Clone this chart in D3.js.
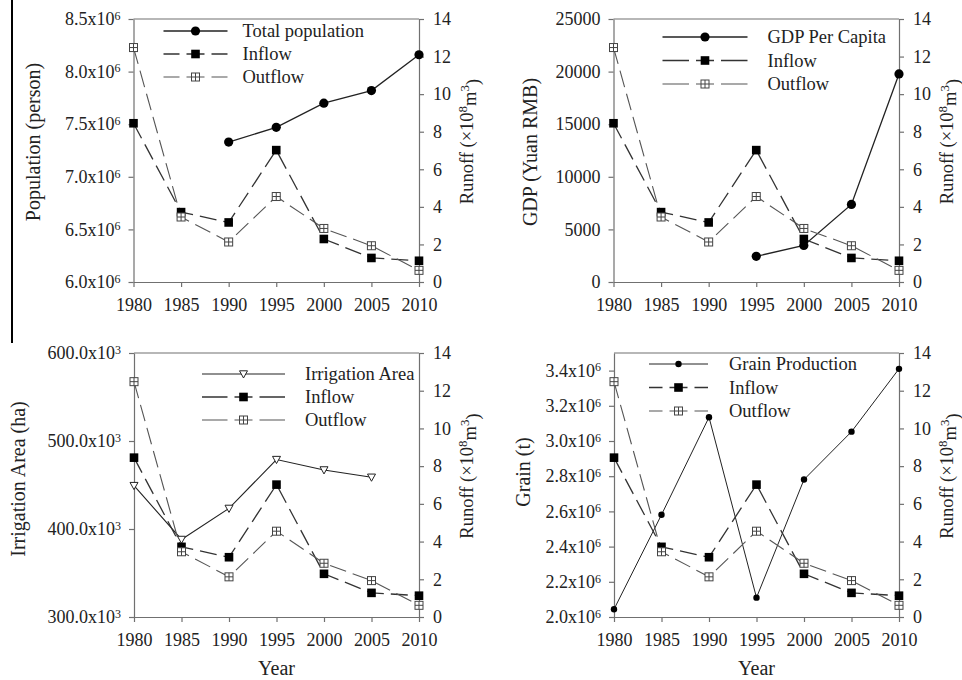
<!DOCTYPE html>
<html>
<head>
<meta charset="utf-8">
<script src="https://cdn.jsdelivr.net/npm/d3@7"></script>
<style>
  body { margin: 0; background: #fff; }
  svg { display: block; font-family: "Liberation Serif", "DejaVu Serif", serif; }
  .axis path, .axis line { stroke: #707070; stroke-width: 1.2; }
  .axis text { font-size: 18px; fill: #222; font-family: "Liberation Serif", serif; }
  .legend text { font-size: 18.5px; fill: #222; }
  .title { font-size: 20px; fill: #222; }
</style>
</head>
<body>
<svg id="chart" width="962" height="680"></svg>
<script>
// data
var years = [1980, 1985, 1990, 1995, 2000, 2005, 2010];
var inflow = [8.45, 3.72, 3.17, 7.02, 2.29, 1.28, 1.13];
var outflow = [12.48, 3.46, 2.13, 4.55, 2.85, 1.93, 0.62];
var population = [null, null, 7.33e6, 7.47e6, 7.70e6, 7.82e6, 8.16e6];
var gdpPerCapita = [null, null, null, 2440, 3480, 7370, 19780];
var irrigation = [449.3, 388.1, 423.4, 478.9, 467.1, 458.8, null];   // x10^3 ha
var grain = [2.044, 2.581, 3.135, 2.110, 2.781, 3.053, 3.410];      // x10^6 t

// tick labels
var runoffTicks = [0, 2, 4, 6, 8, 10, 12, 14];
var popTicks = [6.0e6, 6.5e6, 7.0e6, 7.5e6, 8.0e6, 8.5e6];
var gdpTicks = [0, 5000, 10000, 15000, 20000, 25000];
var irrTicks = [300, 400, 500, 600];
var grainTicks = [2.0, 2.2, 2.4, 2.6, 2.8, 3.0, 3.2, 3.4];

var svg = d3.select("#chart");

// vertical line at the left edge of the picture
svg.append("line")
  .attr("x1", 12).attr("x2", 12).attr("y1", 0).attr("y2", 343)
  .attr("stroke", "#000").attr("stroke-width", 2);

var panels = [
  { left: 133.5, top: 19, right: 419, bottom: 282,
    values: population, domain: [6.0e6, 8.5e6], ticks: popTicks,
    fmt: function(d){ return [(d / 1e6).toFixed(1) + "x10", "6"]; },
    title: "Population (person)", titleX: 33, titleY: 142,
    label: "Total population", marker: "circle", r: 4.6, lineW: 1.3,
    leg: [30, 94, 109, 12, 23], xTitle: false },
  { left: 613.5, top: 19, right: 899, bottom: 282,
    values: gdpPerCapita, domain: [0, 25000], ticks: gdpTicks,
    fmt: function(d){ return [String(d), ""]; },
    title: "GDP (Yuan RMB)", titleX: 530, titleY: 152,
    label: "GDP Per Capita", marker: "circle", r: 4.6, lineW: 1.3,
    leg: [49, 134, 154, 18, 23.5], xTitle: false },
  { left: 134, top: 353, right: 419, bottom: 617,
    values: irrigation, domain: [300, 600], ticks: irrTicks,
    fmt: function(d){ return [d.toFixed(1) + "x10", "3"]; },
    title: "Irrigation Area (ha)", titleX: 18, titleY: 479,
    label: "Irrigation Area", marker: "triangle", r: 4, lineW: 1.1,
    leg: [68, 151, 171, 21, 23], xTitle: true },
  { left: 614, top: 353, right: 899, bottom: 617,
    values: grain, domain: [2.0, 3.5], ticks: grainTicks,
    fmt: function(d){ return [d.toFixed(1) + "x10", "6"]; },
    title: "Grain (t)", titleX: 523, titleY: 472,
    label: "Grain Production", marker: "circle", r: 3.2, lineW: 1,
    leg: [35, 94, 115, 11, 23.5], xTitle: true }
];

function drawMarker(g, type, x, y, r) {
  if (type === "circle") {
    g.append("circle").attr("cx", x).attr("cy", y).attr("r", r).attr("fill", "#000");
  } else if (type === "square") {
    g.append("rect").attr("x", x - 4.3).attr("y", y - 4.3)
      .attr("width", 8.6).attr("height", 8.6).attr("fill", "#000");
  } else if (type === "squareCross") {
    g.append("rect").attr("x", x - 4).attr("y", y - 4).attr("width", 8).attr("height", 8)
      .attr("fill", "#fff").attr("stroke", "#444").attr("stroke-width", 1);
    g.append("path").attr("d", "M" + (x - 4) + "," + y + "H" + (x + 4) + "M" + x + "," + (y - 4) + "V" + (y + 4))
      .attr("stroke", "#444").attr("stroke-width", 1);
  } else if (type === "triangle") {
    g.append("path")
      .attr("d", "M" + (x - r) + "," + (y - r * 0.8) + "L" + (x + r) + "," + (y - r * 0.8) + "L" + x + "," + (y + r) + "Z")
      .attr("fill", "#fff").attr("stroke", "#222").attr("stroke-width", 1);
  }
}

panels.forEach(function(p) {
  var g = svg.append("g");

  var x = d3.scaleLinear().domain([1980, 2010]).range([p.left, p.right]);
  var yL = d3.scaleLinear().domain(p.domain).range([p.bottom, p.top]);
  var yR = d3.scaleLinear().domain([0, 14]).range([p.bottom, p.top]);

  // top frame line
  g.append("line").attr("x1", p.left).attr("x2", p.right)
    .attr("y1", p.top).attr("y2", p.top)
    .attr("stroke", "#707070").attr("stroke-width", 1.2);

  // x axis
  g.append("g").attr("class", "axis")
    .attr("transform", "translate(0," + p.bottom + ")")
    .call(d3.axisBottom(x).tickValues(years).tickFormat(d3.format("d"))
      .tickSize(5).tickSizeOuter(0).tickPadding(11))
    .attr("font-family", "Liberation Serif");

  // left axis
  var leftAxis = g.append("g").attr("class", "axis")
    .attr("transform", "translate(" + p.left + ",0)")
    .call(d3.axisLeft(yL).tickValues(p.ticks).tickSize(5).tickSizeOuter(0).tickPadding(8)
      .tickFormat(function(d){ return ""; }))
    .attr("font-family", "Liberation Serif");
  leftAxis.selectAll(".tick text").each(function(d) {
    var parts = p.fmt(d);
    var t = d3.select(this);
    t.append("tspan").text(parts[0]);
    if (parts[1]) {
      t.append("tspan").attr("dy", "-0.45em").attr("font-size", "12px").text(parts[1]);
    }
  });

  // right axis
  g.append("g").attr("class", "axis")
    .attr("transform", "translate(" + p.right + ",0)")
    .call(d3.axisRight(yR).tickValues(runoffTicks).tickSize(5).tickSizeOuter(0).tickPadding(9))
    .attr("font-family", "Liberation Serif");

  g.selectAll(".axis text").style("font-family", "'Liberation Serif', serif");

  // axis titles
  g.append("text").attr("class", "title")
    .attr("transform", "translate(" + p.titleX + "," + p.titleY + ") rotate(-90)")
    .attr("text-anchor", "middle").attr("dy", "0.35em")
    .text(p.title);

  var rt = g.append("text").attr("class", "title")
    .attr("transform", "translate(" + (p.right + 54) + "," + ((p.top + p.bottom) / 2 - 9) + ") rotate(-90)")
    .attr("text-anchor", "middle").style("font-size", "18.5px");
  rt.append("tspan").text("Runoff (\u00d710");
  rt.append("tspan").attr("dy", "-0.5em").attr("font-size", "13px").text("8");
  rt.append("tspan").attr("dy", "0.5em").text("m");
  rt.append("tspan").attr("dy", "-0.5em").attr("font-size", "13px").text("3");
  rt.append("tspan").attr("dy", "0.5em").text(")");

  if (p.xTitle) {
    g.append("text").attr("class", "title")
      .attr("x", (p.left + p.right) / 2).attr("y", 675)
      .attr("text-anchor", "middle").text("Year");
  }

  // series
  var series = [
    { vals: p.values, scale: yL, marker: p.marker, dash: null, color: "#222", w: p.lineW, label: p.label },
    { vals: inflow, scale: yR, marker: "square", dash: "17,7", color: "#333", w: 1.3, label: "Inflow" },
    { vals: outflow, scale: yR, marker: "squareCross", dash: "17,7", color: "#555", w: 1.1, label: "Outflow" }
  ];

  series.forEach(function(s) {
    var pts = years.map(function(yr, i){ return [yr, s.vals[i]]; })
      .filter(function(d){ return d[1] !== null; });
    var line = d3.line().x(function(d){ return x(d[0]); }).y(function(d){ return s.scale(d[1]); });
    g.append("path").datum(pts).attr("d", line)
      .attr("fill", "none").attr("stroke", s.color).attr("stroke-width", s.w)
      .attr("stroke-dasharray", s.dash);
  });
  series.forEach(function(s) {
    years.forEach(function(yr, i) {
      if (s.vals[i] !== null) drawMarker(g, s.marker, x(yr), s.scale(s.vals[i]), p.r);
    });
  });

  // legend
  var lg = g.append("g").attr("class", "legend");
  series.forEach(function(s, i) {
    var ly = p.top + p.leg[3] + i * p.leg[4];
    var x0 = p.left + p.leg[0], x1 = p.left + p.leg[1], xm = (x0 + x1) / 2;
    // each half drawn from the marker outward
    [x0, x1].forEach(function(xe) {
      lg.append("line").attr("x1", xm).attr("x2", xe).attr("y1", ly).attr("y2", ly)
        .attr("stroke", s.color).attr("stroke-width", s.w)
        .attr("stroke-dasharray", s.dash ? "9,7,100" : null);
    });
    drawMarker(lg, s.marker, xm, ly, p.r);
    lg.append("text").attr("x", p.left + p.leg[2]).attr("y", ly).attr("dy", "0.35em").text(s.label);
  });
});
</script>
</body>
</html>
